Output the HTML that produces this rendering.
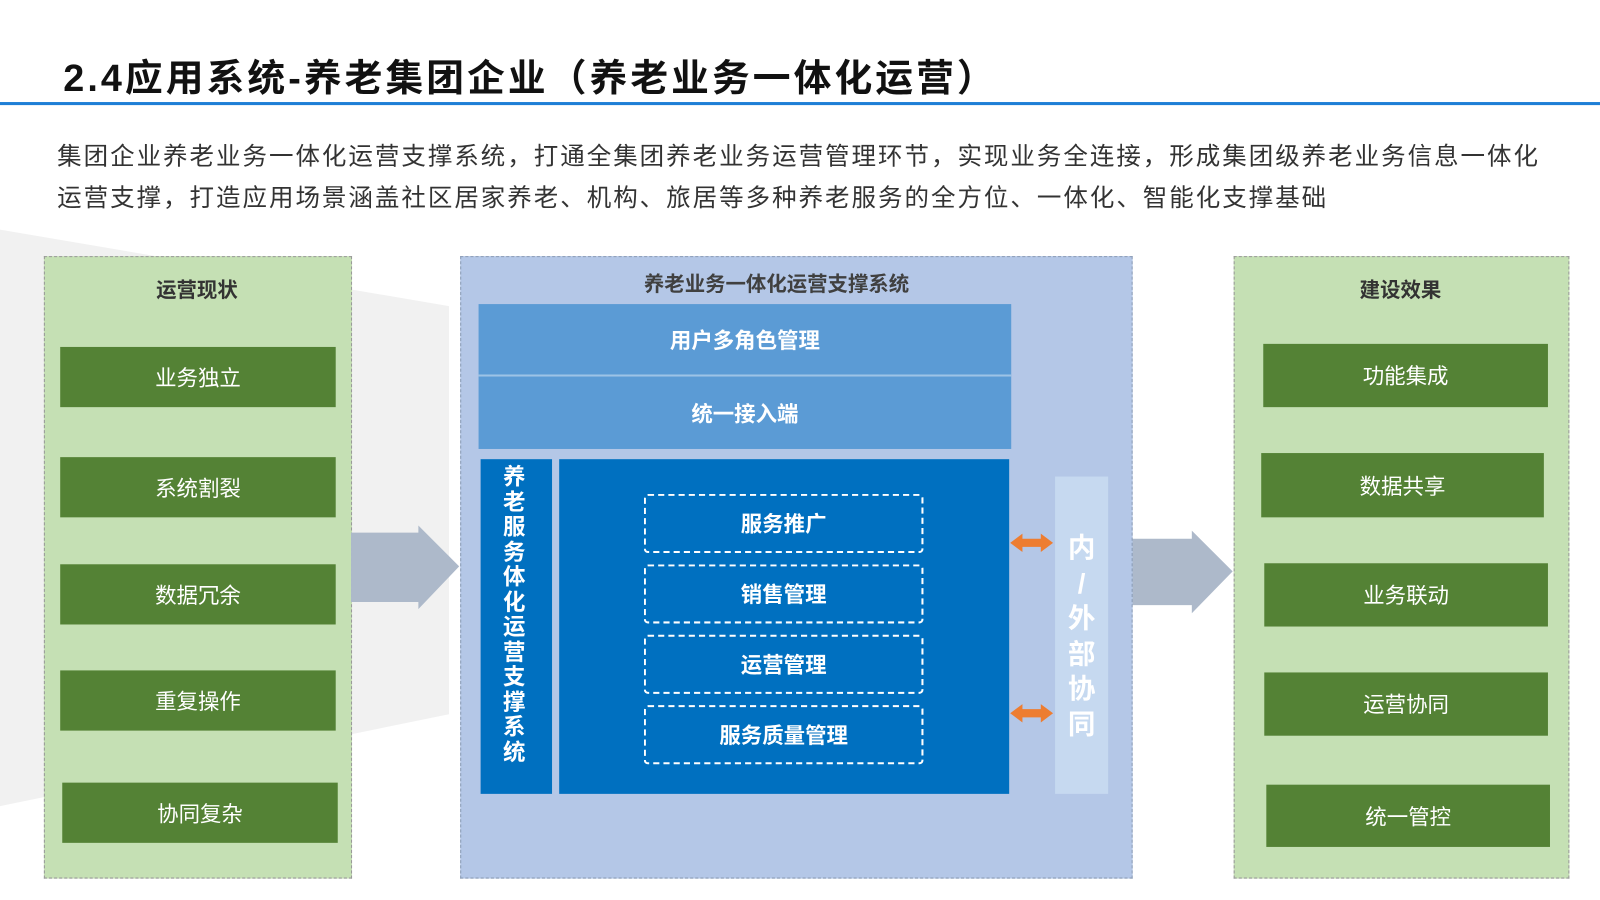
<!DOCTYPE html>
<html><head><meta charset="utf-8"><style>
body{margin:0;width:1600px;height:900px;overflow:hidden;background:#fff;font-family:"Liberation Sans","Noto Sans CJK SC",sans-serif}
#w{position:absolute;left:0;top:0;width:1568px;height:882px;transform:scale(1.0204);transform-origin:0 0}
.a{position:absolute}
.c{display:flex;align-items:center;justify-content:center}
.g{background:#548235;color:#fff;font-size:21px}
.d{border:2px dashed #fff;color:#fff;font-weight:bold;font-size:21px;border-radius:4px;box-sizing:border-box}
</style></head><body><div id="w">
<svg class="a" style="left:0;top:0" width="1568" height="882"><polygon points="0,225 440,300 440,700 0,790" fill="#f1f1f1"/></svg>
<div class="a" style="left:62px;top:46px;font-size:37px;letter-spacing:3px;font-weight:bold;color:#111;white-space:nowrap">2.4应用系统-养老集团企业（养老业务一体化运营）</div>
<div class="a" style="left:0;top:100px;width:1568px;height:3px;background:#1e7fd6"></div>
<div class="a" style="left:56px;top:133px;font-size:24px;letter-spacing:1.95px;color:#333;line-height:41px;white-space:nowrap">集团企业养老业务一体化运营支撑系统，打通全集团养老业务运营管理环节，实现业务全连接，形成集团级养老业务信息一体化<br>运营支撑，打造应用场景涵盖社区居家养老、机构、旅居等多种养老服务的全方位、一体化、智能化支撑基础</div>

<div class="a" style="left:43px;top:251px;width:300px;height:608px;background:#c5e0b4;border:1px dashed #999"></div>
<div class="a c" style="left:43px;top:268px;width:300px;font-size:20px;font-weight:bold;color:#333">运营现状</div>
<div class="a c g" style="left:59px;top:340px;width:270px;height:59px">业务独立</div>
<div class="a c g" style="left:59px;top:448px;width:270px;height:59px">系统割裂</div>
<div class="a c g" style="left:59px;top:553px;width:270px;height:59px">数据冗余</div>
<div class="a c g" style="left:59px;top:657px;width:270px;height:59px">重复操作</div>
<div class="a c g" style="left:61px;top:767px;width:270px;height:59px">协同复杂</div>

<div class="a" style="left:1209px;top:251px;width:327px;height:608px;background:#c5e0b4;border:1px dashed #999"></div>
<div class="a c" style="left:1209px;top:268px;width:327px;font-size:20px;font-weight:bold;color:#333">建设效果</div>
<div class="a c g" style="left:1238px;top:337px;width:279px;height:62px">功能集成</div>
<div class="a c g" style="left:1236px;top:444px;width:277px;height:63px">数据共享</div>
<div class="a c g" style="left:1239px;top:552px;width:278px;height:62px">业务联动</div>
<div class="a c g" style="left:1239px;top:659px;width:278px;height:62px">运营协同</div>
<div class="a c g" style="left:1241px;top:769px;width:278px;height:61px">统一管控</div>

<svg class="a" style="left:0;top:0" width="1568" height="882">
<polygon points="344,522 410,522 410,515 450,555 410,597 410,590 344,590" fill="#adb9ca"/>
<polygon points="1108,528 1168,528 1168,520 1208,560 1168,601 1168,593 1108,593" fill="#adb9ca"/>
</svg>

<div class="a" style="left:451px;top:251px;width:657px;height:608px;background:#b4c7e7;border:1px dashed #8a9bb5"></div>
<div class="a c" style="left:451px;top:262px;width:620px;font-size:20px;font-weight:bold;color:#404040">养老业务一体化运营支撑系统</div>
<div class="a" style="left:469px;top:298px;width:522px;height:142px;background:#5b9bd5"></div>
<div class="a" style="left:469px;top:367px;width:522px;height:2px;background:#9dc3e6"></div>
<div class="a c" style="left:469px;top:318px;width:522px;font-size:21px;font-weight:bold;color:#fff">用户多角色管理</div>
<div class="a c" style="left:469px;top:390px;width:522px;font-size:21px;font-weight:bold;color:#fff">统一接入端</div>
<div class="a" style="left:471px;top:450px;width:70px;height:328px;background:#0070c0"></div>
<div class="a" style="left:491px;top:456px;width:26px;font-size:22px;line-height:24.5px;font-weight:bold;color:#fff;text-align:center">养老服务体化运营支撑系统</div>
<div class="a" style="left:548px;top:450px;width:441px;height:328px;background:#0070c0"></div>
<div class="a c d" style="left:631px;top:484px;width:274px;height:58px">服务推广</div>
<div class="a c d" style="left:631px;top:553px;width:274px;height:58px">销售管理</div>
<div class="a c d" style="left:631px;top:622px;width:274px;height:58px">运营管理</div>
<div class="a c d" style="left:631px;top:691px;width:274px;height:58px">服务质量管理</div>
<div class="a" style="left:1034px;top:467px;width:52px;height:311px;background:#c6d9f0"></div>
<div class="a" style="left:1034px;top:520px;width:52px;font-size:27px;line-height:34.5px;font-weight:bold;color:#fff;text-align:center">内<br>/<br>外<br>部<br>协<br>同</div>
<svg class="a" style="left:0;top:0" width="1568" height="882" fill="#ed7d31">
<polygon points="990,532 1002,523 1002,528 1020,528 1020,523 1032,532 1020,541 1020,536 1002,536 1002,541"/>
<polygon points="990,699 1002,690 1002,695 1020,695 1020,690 1032,699 1020,708 1020,703 1002,703 1002,708"/>
</svg>
</div></body></html>
